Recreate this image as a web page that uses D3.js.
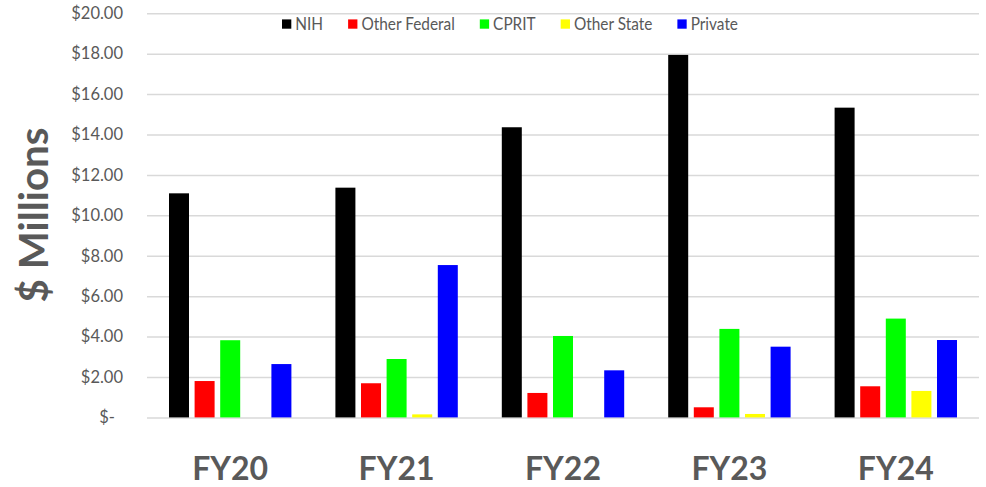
<!DOCTYPE html>
<html>
<head>
<meta charset="utf-8">
<script src="https://cdn.jsdelivr.net/npm/d3@7"></script>
<style>
  html, body { margin: 0; padding: 0; background: #fff; }
  svg { display: block; }
</style>
</head>
<body>
<div id="chart"></div>
<script>
// Research funding by source, fiscal years 2020-2024 ($ millions)
const years = ["FY20", "FY21", "FY22", "FY23", "FY24"];
const sources = ["NIH", "Other Federal", "CPRIT", "Other State", "Private"];
const nih          = [11.09, 11.37, 14.36, 17.94, 15.33];
const otherFederal = [1.80, 1.69, 1.21, 0.50, 1.54];
const cprit        = [3.82, 2.89, 4.03, 4.38, 4.89];
const otherState   = [0, 0.15, 0, 0.17, 1.31];
const privateFunds = [2.64, 7.54, 2.33, 3.50, 3.83];
const yTicks = [0, 2, 4, 6, 8, 10, 12, 14, 16, 18, 20];

const seriesValues = [nih, otherFederal, cprit, otherState, privateFunds];
const colors = ["#000000", "#ff0000", "#00ff00", "#ffff00", "#0000ff"];

const W = 986, H = 487;
const plot = { left: 147, right: 979, top: 13.3, bottom: 417.4 };
const textColor = "#595959";
const font = "Lato, 'Liberation Sans', Arial, sans-serif";

const svg = d3.select("#chart").append("svg")
  .attr("width", W).attr("height", H);

const x0 = d3.scaleBand().domain(years).range([plot.left, plot.right]).paddingInner(0).paddingOuter(0);
const groupW = x0.bandwidth();
const x1 = d3.scaleBand().domain(sources)
  .range([groupW * 0.1154, groupW * 0.8846])
  .paddingInner(0.21875).paddingOuter(0.109375);
const y = d3.scaleLinear().domain([0, 20]).range([plot.bottom, plot.top]);

// gridlines + tick labels
const yAxis = d3.axisLeft(y).tickValues(yTicks)
  .tickSize(-(plot.right - plot.left))
  .tickPadding(24)
  .tickFormat(d => d === 0 ? "$-" : "$" + d3.format(".2f")(d));
const gy = svg.append("g").attr("transform", `translate(${plot.left},0)`).call(yAxis);
gy.select(".domain").remove();
gy.selectAll(".tick line").attr("stroke", "#d9d9d9").attr("stroke-width", 1.5);
gy.selectAll(".tick text")
  .attr("fill", textColor).attr("font-family", font).attr("font-size", 16.5)
  .attr("dx", d => d === 0 ? -8 : 0);

// bars
const rows = years.map((yr, i) => ({ yr, vals: sources.map((s, j) => ({ s, j, v: seriesValues[j][i] })) }));
svg.append("g").selectAll("g").data(rows).join("g")
  .attr("transform", d => `translate(${x0(d.yr)},0)`)
  .selectAll("rect").data(d => d.vals.filter(e => e.v > 0)).join("rect")
  .attr("x", d => x1(d.s))
  .attr("width", x1.bandwidth())
  .attr("y", d => y(d.v))
  .attr("height", d => y(0) - y(d.v))
  .attr("fill", d => colors[d.j]);

// category labels
svg.append("g").selectAll("text").data(years).join("text")
  .attr("x", d => x0(d) + groupW / 2)
  .attr("y", 479.5)
  .attr("text-anchor", "middle")
  .attr("fill", textColor)
  .attr("font-family", font)
  .attr("font-weight", "bold")
  .attr("font-size", 33)
  .attr("textLength", 76)
  .attr("lengthAdjust", "spacingAndGlyphs")
  .text(d => d);

// axis title
svg.append("text")
  .attr("transform", "translate(48,215) rotate(-90)")
  .attr("text-anchor", "middle")
  .attr("fill", textColor)
  .attr("font-family", font)
  .attr("font-weight", "bold")
  .attr("font-size", 40)
  .attr("textLength", 175)
  .attr("lengthAdjust", "spacingAndGlyphs")
  .text("$ Millions");

// legend: entries laid out left to right, text condensed to fit the legend width
const legendLeft = 282, legendRight = 738, sw = 9.3, swGap = 4, itemGap = 25;
const legend = svg.append("g").attr("transform", `translate(${legendLeft},24)`);
const items = sources.map((s, j) => {
  const g = legend.append("g");
  g.append("rect").attr("x", 0).attr("y", -4.6).attr("width", sw).attr("height", sw).attr("fill", colors[j]);
  const t = g.append("text").attr("x", sw + swGap).attr("y", 6)
    .attr("fill", textColor).attr("font-family", font).attr("font-size", 17.5)
    .text(s);
  return { g, t, w: t.node().getComputedTextLength() };
});
const fixed = sources.length * (sw + swGap) + (sources.length - 1) * itemGap;
const k = Math.min(1, (legendRight - legendLeft - fixed) / d3.sum(items, d => d.w));
let cx = 0;
items.forEach(it => {
  const w = it.w * k;
  it.g.attr("transform", `translate(${cx},0)`);
  it.t.attr("textLength", w).attr("lengthAdjust", "spacingAndGlyphs");
  cx += sw + swGap + w + itemGap;
});
</script>
</body>
</html>
